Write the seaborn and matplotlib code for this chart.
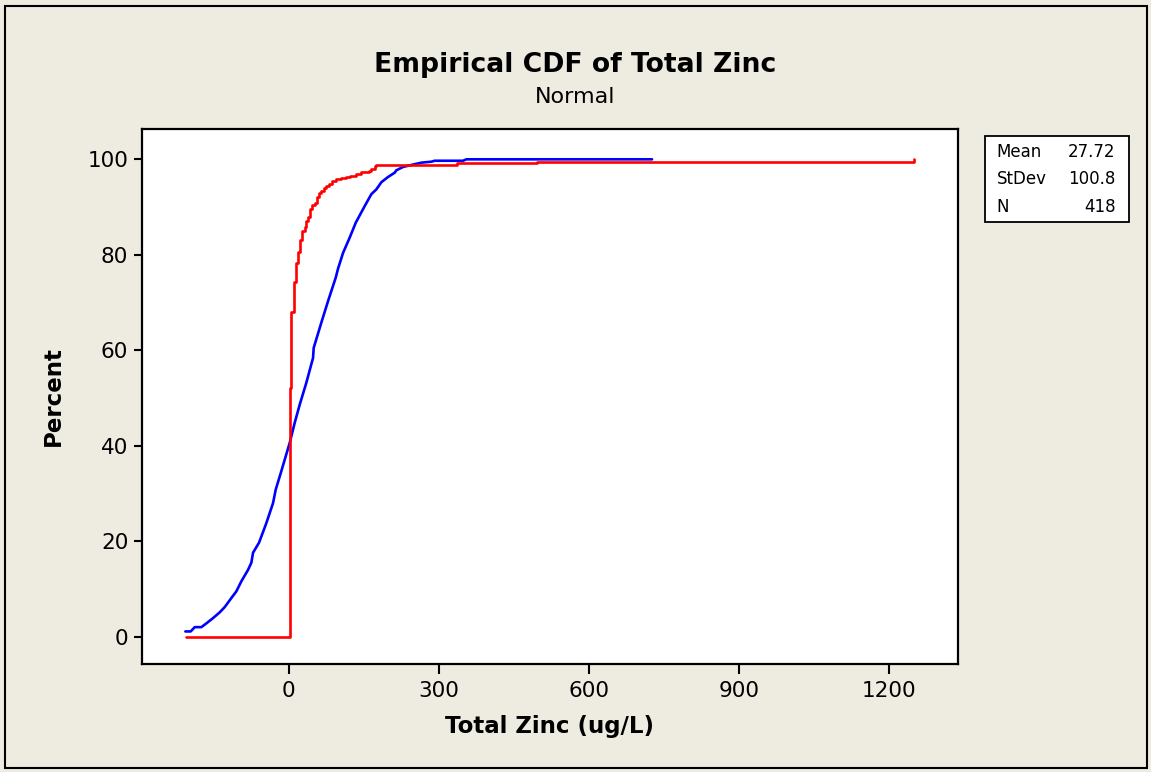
import matplotlib
matplotlib.use("Agg")
import matplotlib.pyplot as plt
from matplotlib.patches import Rectangle
import pandas as pd
import seaborn as sns

# Empirical CDF of the sample (step points: value, cumulative percent)
ecdf_x = [-206, 2, 5.4, 10, 14, 18, 23.3, 27.3, 32, 35.3, 39.3, 43.3, 47.3, 52,
          56.7, 60.7, 65.3, 70, 74, 80.7, 87.3, 95.3, 104, 114, 122, 134, 145,
          160.7, 165, 172, 174, 337, 497, 1250]
ecdf_pct = [0, 52.2, 68.1, 74.4, 78.2, 80.6, 83.0, 84.9, 85.8, 87.0, 88.0, 89.5,
            90.4, 90.9, 92.2, 92.9, 93.4, 94.0, 94.4, 94.9, 95.4, 95.9, 96.1, 96.3,
            96.6, 97.0, 97.3, 97.5, 98.0, 98.5, 98.8, 99.2, 99.5, 100]

# Fitted normal CDF
fit_x = [-206.7, -196, -188, -174.7, -163.3, -151.3, -138, -128, -114.7, -104.7,
         -94.7, -81.3, -74.7, -71.3, -59.3, -44.7, -31.3, -26, -14.7, 2, 12, 22,
         35, 48.7, 50, 65.3, 78.7, 94, 98.7, 108.7, 122, 134, 152, 165.3, 175.3,
         185.3, 198.7, 212, 215.3, 228.7, 248.7, 265.3, 285.3, 292, 348.7, 355.3,
         726.7]
fit_pct = [1.1, 1.1, 2.0, 2.0, 2.9, 3.9, 5.1, 6.2, 8.1, 9.5, 11.6, 14.0, 15.5,
           17.6, 19.7, 23.8, 28.0, 30.8, 34.7, 40.6, 44.8, 48.6, 53.1, 58.4, 60.5,
           65.8, 70.3, 75.2, 77.1, 80.4, 83.6, 86.7, 90.2, 92.7, 93.7, 95.2, 96.3,
           97.2, 97.7, 98.4, 98.9, 99.3, 99.5, 99.7, 99.7, 100.0, 100.0]

x_ticks = [0, 300, 600, 900, 1200]
y_ticks = [0, 20, 40, 60, 80, 100]

stat_names = ["Mean", "StDev", "N"]
stat_values = ["27.72", "100.8", "418"]

title = "Empirical CDF of Total Zinc"
subtitle = "Normal"
x_label = "Total Zinc (ug/L)"
y_label = "Percent"

sns.set_style("ticks")
plt.rcParams["font.family"] = ["DejaVu Sans"]
plt.rcParams["text.color"] = "black"
plt.rcParams["axes.labelcolor"] = "black"
plt.rcParams["xtick.color"] = "black"
plt.rcParams["ytick.color"] = "black"

W, H = 1151, 772
fig = plt.figure(figsize=(W / 100, H / 100), dpi=100)
bg = "#EEEBE1"
fig.patch.set_facecolor(bg)


def fx(px):
    return px / W


def fy(py):
    return 1 - py / H


ax = fig.add_axes([fx(141.5), fy(664), fx(958) - fx(141.5), fy(129) - fy(664)])
ax.set_facecolor("white")

ecdf_df = pd.DataFrame({"x": ecdf_x, "pct": ecdf_pct})
fit_df = pd.DataFrame({"x": fit_x, "pct": fit_pct})

sns.lineplot(data=fit_df, x="x", y="pct", ax=ax, color="#0000FF", lw=1.9,
             estimator=None, sort=False)
sns.lineplot(data=ecdf_df, x="x", y="pct", ax=ax, color="#FF0000", lw=1.9,
             estimator=None, sort=False, drawstyle="steps-post")

ax.set_xlim(-294.4, 1338.6)
ax.set_ylim(-5.72, 106.35)
ax.set_xticks(x_ticks)
ax.set_yticks(y_ticks)
ax.tick_params(axis="both", labelsize=15.5, colors="black", width=1.5)
ax.tick_params(axis="x", length=7, pad=5)
ax.tick_params(axis="y", length=5.5, pad=4)
for s in ax.spines.values():
    s.set_visible(True)
    s.set_color("black")
    s.set_linewidth(1.6)

ax.set_xlabel(x_label, fontsize=16.5, fontweight="bold", labelpad=10,
              color="black")
ax.set_ylabel(y_label, fontsize=16.5, fontweight="bold", labelpad=16,
              color="black")

fig.text(0.5, fy(71.7), title, ha="center", va="baseline",
         fontsize=19.2, fontweight="bold", color="black")
fig.text(0.5, fy(103.3), subtitle, ha="center", va="baseline", fontsize=16,
         color="black")

# statistics box
fig.patches.append(Rectangle((fx(984.5), fy(222)), fx(1128.5) - fx(984.5),
                             fy(136.5) - fy(222), transform=fig.transFigure,
                             facecolor="white", edgecolor="black", lw=1.3))
for i, (nm, val) in enumerate(zip(stat_names, stat_values)):
    base = 156.7 + i * 27.5
    fig.text(fx(996.5), fy(base), nm, ha="left", va="baseline", fontsize=12,
             color="black")
    fig.text(fx(1115.5), fy(base), val, ha="right", va="baseline", fontsize=12,
             color="black")

# outer frame
fig.patches.append(Rectangle((fx(4.5), fy(767.5)), fx(1146.5) - fx(4.5),
                             fy(5.5) - fy(767.5), transform=fig.transFigure,
                             facecolor="none", edgecolor="black", lw=1.5))

fig.savefig("out.png", dpi=100, facecolor=bg)
